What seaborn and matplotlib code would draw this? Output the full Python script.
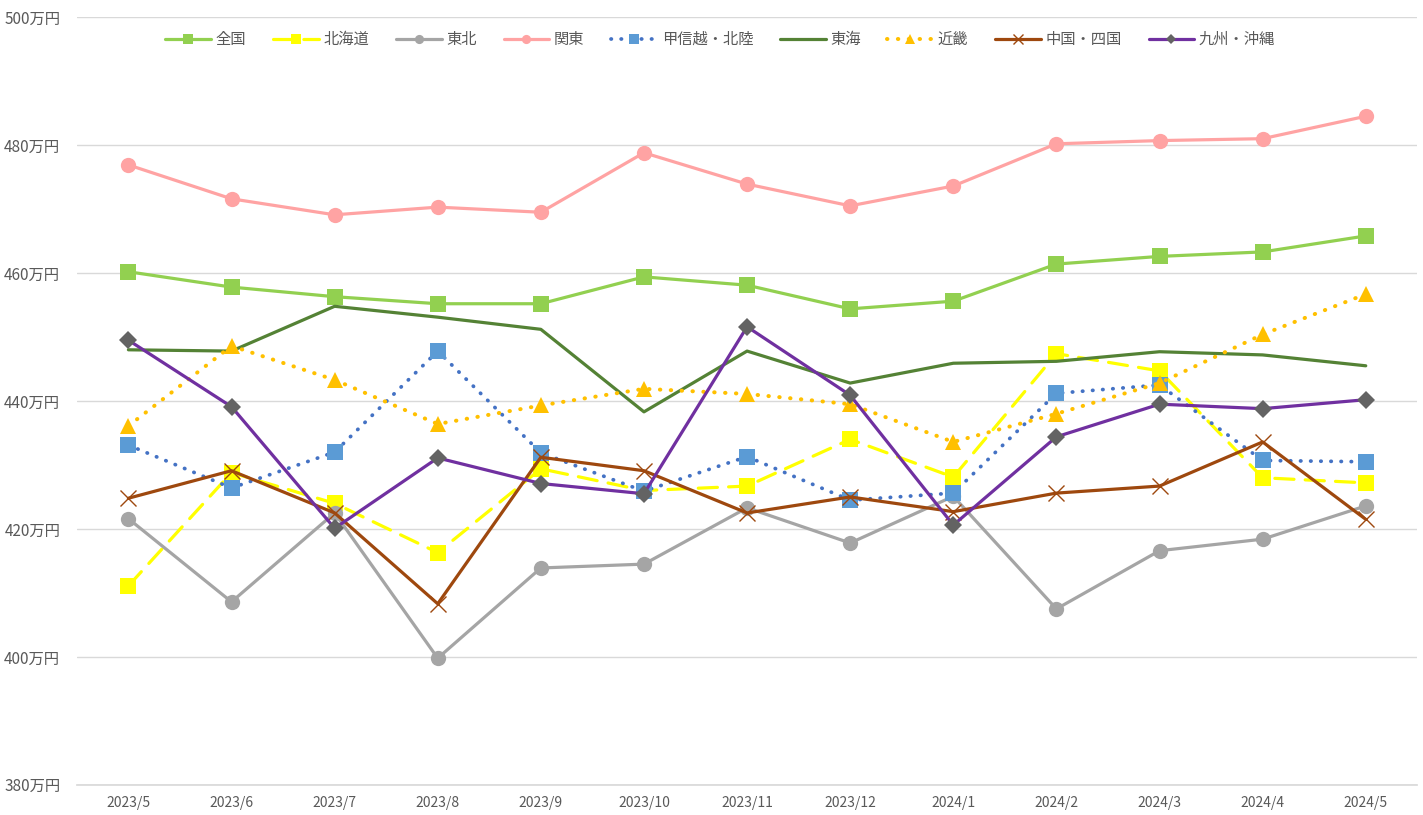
import matplotlib
matplotlib.use('Agg')
import matplotlib.pyplot as plt
import seaborn as sns

months = ['2023/5', '2023/6', '2023/7', '2023/8', '2023/9', '2023/10', '2023/11',
          '2023/12', '2024/1', '2024/2', '2024/3', '2024/4', '2024/5']

zenkoku = [460.2, 457.8, 456.3, 455.2, 455.2, 459.4, 458.1, 454.4, 455.6, 461.4, 462.6, 463.3, 465.8]
hokkaido = [411.1, 428.8, 424.0, 416.3, 429.4, 426.0, 426.7, 434.0, 428.1, 447.4, 444.7, 428.0, 427.2]
tohoku = [421.6, 408.6, 422.5, 399.8, 413.9, 414.5, 423.3, 417.8, 425.1, 407.5, 416.6, 418.4, 423.6]
kanto = [476.9, 471.6, 469.1, 470.3, 469.5, 478.8, 473.9, 470.5, 473.6, 480.2, 480.7, 481.0, 484.5]
koshinetsu = [433.1, 426.4, 432.0, 447.8, 431.9, 425.9, 431.3, 424.5, 425.6, 441.2, 442.5, 430.7, 430.5]
tokai = [448.0, 447.8, 454.8, 453.1, 451.2, 438.3, 447.8, 442.8, 445.9, 446.2, 447.7, 447.2, 445.5]
kinki = [436.1, 448.6, 443.3, 436.4, 439.3, 441.9, 441.1, 439.5, 433.6, 438.0, 442.8, 450.4, 456.7]
chugoku = [424.8, 429.1, 422.5, 408.3, 431.2, 429.1, 422.5, 425.0, 422.7, 425.6, 426.7, 433.6, 421.5]
kyushu = [449.5, 439.1, 420.1, 431.1, 427.1, 425.5, 451.6, 440.9, 420.6, 434.4, 439.5, 438.8, 440.2]

y_ticks = [380, 400, 420, 440, 460, 480, 500]

sns.set_theme(style='white')
plt.rcParams['font.family'] = ['Noto Sans CJK JP', 'DejaVu Sans']

fig, ax = plt.subplots(figsize=(14.23, 8.15), dpi=100)
fig.subplots_adjust(left=0.054, right=0.996, top=0.979, bottom=0.037)

x = list(range(len(months)))

# 名前, データ, 線色, 線種, 線幅, マーカー, マーカー色, マーカーサイズ
series = [
    ('全国', zenkoku, '#92d050', '-', 2.3, 's', '#92d050', 11),
    ('北海道', hokkaido, '#ffff00', (0, (6, 3.5)), 2.3, 's', '#ffff00', 11),
    ('東北', tohoku, '#a5a5a5', '-', 2.3, 'o', '#a5a5a5', 11),
    ('関東', kanto, '#ffa3a3', '-', 2.3, 'o', '#ffa3a3', 11),
    ('甲信越・北陸', koshinetsu, '#4472c4', (0, (0.1, 2.6)), 2.7, 's', '#5b9bd5', 11),
    ('東海', tokai, '#548235', '-', 2.3, None, '#548235', 0),
    ('近畿', kinki, '#ffc000', (0, (0.1, 2.6)), 2.9, '^', '#ffc000', 11),
    ('中国・四国', chugoku, '#9e480e', '-', 2.3, 'x', '#9e480e', 11),
    ('九州・沖縄', kyushu, '#7030a0', '-', 2.3, 'D', '#636363', 9),
]

for name, vals, color, ls, lw, mk, mcolor, ms in series:
    sns.lineplot(x=x, y=vals, ax=ax, color=color, linewidth=lw, linestyle=ls,
                 marker=mk, markersize=ms, markerfacecolor=mcolor,
                 markeredgecolor=mcolor, markeredgewidth=1.0 if mk == 'x' else 0,
                 dash_capstyle='round', label=name)

ax.set_xlim(-0.5, len(months) - 0.5)
ax.set_ylim(380, 500)
ax.set_yticks(y_ticks)
ax.set_yticklabels([f'{v}万円' for v in y_ticks])
ax.set_xticks(x)
ax.set_xticklabels(months)
ax.tick_params(axis='x', colors='#595959', labelsize=10, length=0, pad=8)
ax.tick_params(axis='y', colors='#595959', labelsize=11, length=0, pad=12)
ax.grid(axis='y', color='#d9d9d9', linewidth=1)
for s in ['left', 'right', 'top']:
    ax.spines[s].set_visible(False)
ax.spines['bottom'].set_color('#d9d9d9')
ax.set_xlabel('')
ax.set_ylabel('')

# 凡例は上部中央（やや左寄り）
leg = ax.legend(loc='upper center', bbox_to_anchor=(0.48, 1.0), ncol=9, frameon=False,
                fontsize=11, handlelength=3.0, columnspacing=1.75, handletextpad=0.3,
                numpoints=1, markerscale=0.6)
for t in leg.get_texts():
    t.set_color('#595959')

plt.savefig('out.png')
